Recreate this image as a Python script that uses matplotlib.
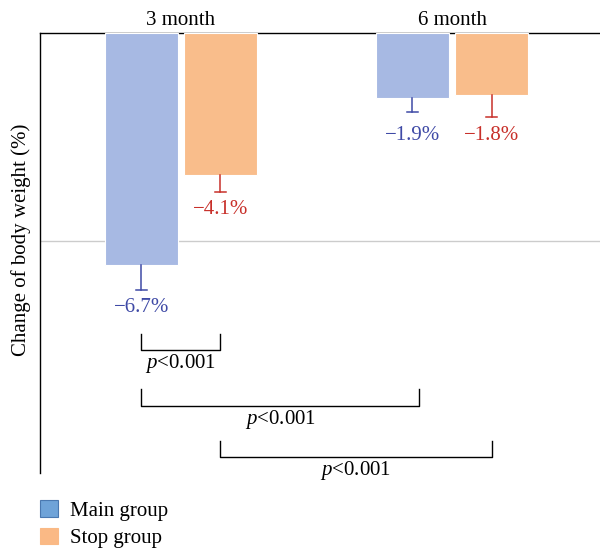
import matplotlib
matplotlib.use("Agg")
import matplotlib.pyplot as plt
from matplotlib.patches import Patch
import numpy as np

plt.rcParams['font.family'] = ['Liberation Serif', 'DejaVu Serif']
plt.rcParams['mathtext.fontset'] = 'custom'
plt.rcParams['mathtext.rm'] = 'Liberation Serif'
plt.rcParams['mathtext.it'] = 'Liberation Serif:italic'

periods = ["3 month", "6 month"]
groups = ["Main group", "Stop group"]
main_vals = [-6.7, -1.9]
stop_vals = [-4.1, -1.8]
main_err = [0.72, 0.38]
stop_err = [0.49, 0.65]
main_labels = ["\u22126.7%", "\u22121.9%"]
stop_labels = ["\u22124.1%", "\u22121.8%"]
p_labels = ["$\\it{p}$<0.001", "$\\it{p}$<0.001", "$\\it{p}$<0.001"]

main_color = "#A7B9E3"
stop_color = "#F9BD8B"
main_text = "#3F4AA6"
stop_text = "#C8302A"
leg_main = "#6FA3D8"
leg_stop = "#FAB985"

FS = 15

fig = plt.figure(figsize=(6, 5.52), dpi=100)
ax = fig.add_axes([40/600, 1-473/552, 1-40/600, (473-32.5)/552])

x = np.arange(len(periods))
off = 0.1458
w = 0.269
xm = x - off
xs = x + off
ax.bar(xm, main_vals, width=w, color=main_color, edgecolor="white", linewidth=0.8, zorder=3)
ax.bar(xs, stop_vals, width=w, color=stop_color, edgecolor="white", linewidth=0.8, zorder=3)

cap = 0.021
def err_down(xc, v, e, c):
    ax.plot([xc, xc], [v, v - e], color=c, linewidth=1.1, zorder=4)
    ax.plot([xc - cap, xc + cap], [v - e, v - e], color=c, linewidth=1.1, zorder=4)

gap = 0.52
for i in range(len(periods)):
    cm = main_vals[i] - main_err[i]
    cs = stop_vals[i] - stop_err[i]
    if abs(cm - cs) < 0.5:
        cm = cs = min(cm, cs)
    err_down(xm[i], main_vals[i], main_err[i], main_text)
    err_down(xs[i], stop_vals[i], stop_err[i], stop_text)
    ax.text(xm[i], cm - gap, main_labels[i], color=main_text,
            ha="center", va="center", fontsize=FS)
    ax.text(xs[i], cs - gap, stop_labels[i], color=stop_text,
            ha="center", va="center", fontsize=FS)

ax.axhline(-6.0, color="#CCCCCC", linewidth=1.0, zorder=1)

ax.set_xlim(-0.520, 1.546)
ax.set_ylim(-12.7, 0)

# brackets
brackets = [(xm[0], xs[0], -8.68, -9.15), (xm[0], xm[1] + 0.025, -10.27, -10.77),
            (xs[0], xs[1], -11.78, -12.24)]
for (x0, x1, ytop, ybot), lab in zip(brackets, p_labels):
    ax.plot([x0, x0, x1, x1], [ytop, ybot, ybot, ytop], color="black", linewidth=1.0,
            clip_on=False, zorder=5)
    ax.text((x0 + x1) / 2, ybot - 0.4, lab, ha="center", va="center", fontsize=FS)

# top labels
ax.xaxis.tick_top()
ax.set_xticks(x)
ax.set_xticklabels(periods, fontsize=FS)
ax.tick_params(axis="x", length=0, pad=2)
ax.set_yticks([])

for s in ["right", "bottom"]:
    ax.spines[s].set_visible(False)
ax.spines["top"].set_linewidth(1.0)
ax.spines["left"].set_linewidth(1.0)

ax.set_ylabel("Change of body weight (%)", fontsize=FS)
ax.yaxis.set_label_coords(-0.016, 0.530)

handles = [Patch(facecolor=leg_main, edgecolor="#4A78B0", linewidth=0.8),
           Patch(facecolor=leg_stop, edgecolor=leg_stop, linewidth=0.8)]
fig.legend(handles, groups, loc="upper left", bbox_to_anchor=(32/600, 1-492/552),
           frameon=False, fontsize=FS, handlelength=0.85, handleheight=0.85,
           handletextpad=0.55, labelspacing=0.32, borderaxespad=0)

fig.savefig("out.png", dpi=100)
